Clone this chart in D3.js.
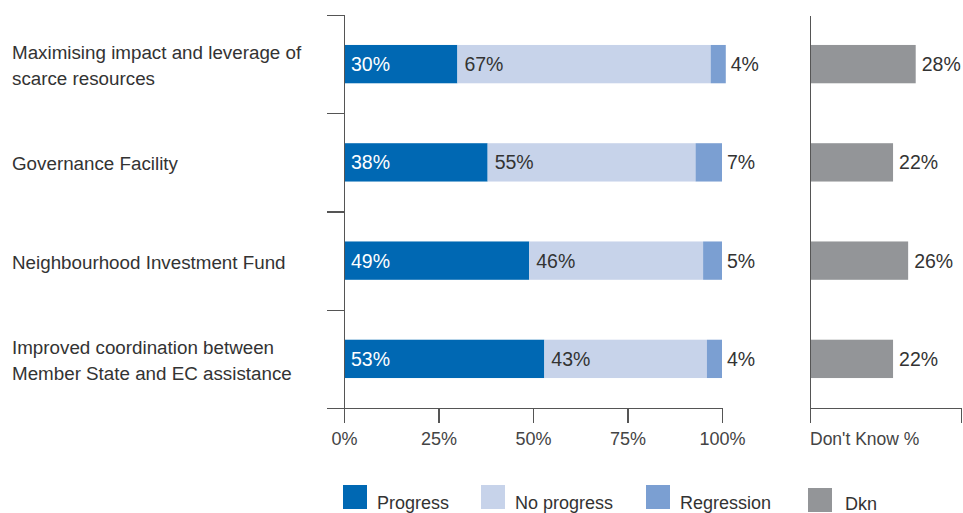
<!DOCTYPE html>
<html>
<head>
<meta charset="utf-8">
<script src="https://cdn.jsdelivr.net/npm/d3@7"></script>
<style>
  html, body { margin: 0; padding: 0; background: #fff; }
  svg { display: block; font-family: "Liberation Sans", Arial, sans-serif; }
  .axis path, .axis line { stroke: #555; stroke-width: 1.2; shape-rendering: crispEdges; }
</style>
</head>
<body>
<svg id="chart" width="963" height="513"></svg>
<script>
// Survey categories (top to bottom), with line breaks for wrapped labels
const categories = [
  ["Maximising impact and leverage of", "scarce resources"],
  ["Governance Facility"],
  ["Neighbourhood Investment Fund"],
  ["Improved coordination between", "Member State and EC assistance"]
];
// Share of respondents per answer, in %
const progress   = [30, 38, 49, 53];
const noProgress = [67, 55, 46, 43];
const regression = [4, 7, 5, 4];
const dontKnow   = [28, 22, 26, 22];

const seriesNames = ["Progress", "No progress", "Regression"];
const colors = ["#0068b3", "#c7d3ea", "#7b9fd2"];
const dknColor = "#939598";
const xTicks = [0, 25, 50, 75, 100];
const dknTicks = [0, 40];

const svg = d3.select("#chart");
const catIdx = categories.map((_, i) => i);

// Scales
const y = d3.scaleBand().domain(catIdx).range([15, 408]).padding(0);
const yEdge = d3.scaleLinear().domain([0, categories.length]).range([15, 408]);
const x = d3.scaleLinear().domain([0, 100]).range([344, 722]);
const xd = d3.scaleLinear().domain([0, 40]).range([810, 961]);
const barH = y.bandwidth() * 0.39;
const barY = i => y(i) + (y.bandwidth() - barH) / 2;
const mid = i => y(i) + y.bandwidth() / 2;

// Category labels
const labels = svg.append("g").attr("fill", "#333").attr("font-size", 18.8);
catIdx.forEach(i => {
  const lines = categories[i];
  const t = labels.append("text").attr("x", 12);
  lines.forEach((ln, k) => {
    t.append("tspan")
      .attr("x", 12)
      .attr("y", mid(i) + 8 + (k - (lines.length - 1) / 2) * 26)
      .text(ln);
  });
});

// Stacked bars
const rows = catIdx.map(i => ({ i, s0: progress[i], s1: noProgress[i], s2: regression[i] }));
const stack = d3.stack().keys(["s0", "s1", "s2"])(rows);
const bars = svg.append("g");
stack.forEach((layer, li) => {
  bars.selectAll(null).data(layer).join("rect")
    .attr("x", d => x(d[0]))
    .attr("y", d => barY(d.data.i))
    .attr("width", d => x(d[1]) - x(d[0]))
    .attr("height", barH)
    .attr("fill", colors[li]);
});

// Value labels
const vals = svg.append("g").attr("font-size", 19.5);
stack.forEach((layer, li) => {
  vals.selectAll(null).data(layer).join("text")
    .attr("x", d => li === 2 ? x(d[1]) + 5 : x(d[0]) + 7)
    .attr("y", d => mid(d.data.i) + 7)
    .attr("fill", li === 0 ? "#fff" : "#333")
    .text(d => (d[1] - d[0]) + "%");
});

// Main axes
svg.append("g").attr("class", "axis")
  .attr("transform", "translate(344,0)")
  .call(d3.axisLeft(yEdge).tickValues(d3.range(categories.length + 1)).tickSize(17).tickFormat(""));

const xa = svg.append("g").attr("class", "axis")
  .attr("transform", "translate(0,408)")
  .call(d3.axisBottom(x).tickValues(xTicks).tickSize(15).tickSizeOuter(0).tickFormat(d => d + "%"));
xa.selectAll("text").attr("font-size", 18).attr("fill", "#444").attr("y", 24).attr("dy", "0.71em")
  .attr("font-family", "Liberation Sans, Arial, sans-serif");

// Don't-know panel
svg.append("g").selectAll("rect").data(dontKnow).join("rect")
  .attr("x", xd(0))
  .attr("y", (d, i) => barY(i))
  .attr("width", d => xd(d) - xd(0))
  .attr("height", barH)
  .attr("fill", dknColor);

svg.append("g").attr("font-size", 19.5).attr("fill", "#333")
  .selectAll("text").data(dontKnow).join("text")
  .attr("x", d => xd(d) + 6)
  .attr("y", (d, i) => mid(i) + 7)
  .text(d => d + "%");

svg.append("g").attr("class", "axis")
  .attr("transform", "translate(810,0)")
  .call(d3.axisLeft(yEdge).tickValues([]).tickSizeOuter(0));

svg.append("g").attr("class", "axis")
  .attr("transform", "translate(0,408)")
  .call(d3.axisBottom(xd).tickValues(dknTicks).tickSize(15).tickSizeOuter(0).tickFormat(""));

svg.append("text").attr("x", 810).attr("y", 445)
  .attr("font-size", 17.5).attr("fill", "#444").text("Don't Know %");

// Legend
const legendItems = [
  { name: seriesNames[0], color: colors[0], x: 343, y: 485 },
  { name: seriesNames[1], color: colors[1], x: 481, y: 485 },
  { name: seriesNames[2], color: colors[2], x: 646, y: 485 },
  { name: "Dkn", color: dknColor, x: 808, y: 488 }
];
const lg = svg.append("g").selectAll("g").data(legendItems).join("g")
  .attr("transform", d => `translate(${d.x},${d.y})`);
lg.append("rect").attr("width", 24).attr("height", 24).attr("fill", d => d.color);
lg.append("text").attr("x", (d, i) => i === 3 ? 37 : 34).attr("y", (d, i) => i === 3 ? 22 : 24)
  .attr("font-size", 18).attr("fill", "#333").text(d => d.name);
</script>
</body>
</html>
